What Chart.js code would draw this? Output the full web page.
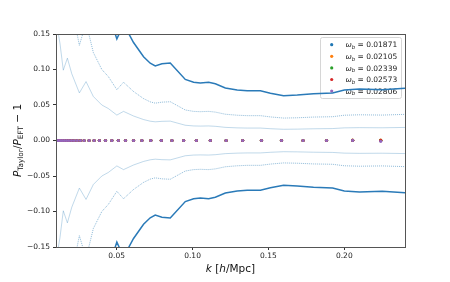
<!DOCTYPE html>
<html>
<head>
<meta charset="utf-8">
<script src="https://cdn.jsdelivr.net/npm/chart.js@4/dist/chart.umd.min.js"></script>
<style>
  html, body { margin: 0; padding: 0; background: #fff; }
  canvas { display: block; }
</style>
</head>
<body>
<canvas id="c" width="450" height="282"></canvas>
<script>
// wavenumbers of the ratio points (one per omega_b run)
const kDots = [0.0101, 0.0110, 0.0120, 0.0131, 0.0143, 0.0156, 0.0170, 0.0185, 0.0202, 0.0220,
  0.0240, 0.0261, 0.0285, 0.0318, 0.0351, 0.0386, 0.0426, 0.0468, 0.0511, 0.0558, 0.0611,
  0.0666, 0.0725, 0.0794, 0.0864, 0.0941, 0.1025, 0.1117, 0.1221, 0.1330, 0.1454, 0.1586,
  0.1728, 0.1883, 0.2055, 0.2240];

const omegaLabels = ['0.01871', '0.02105', '0.02339', '0.02573', '0.02806'];
const omegaColors = ['#1f77b4', '#ff7f0e', '#2ca02c', '#d62728', '#9467bd'];

// P_Taylor / P_EFT - 1 for each omega_b
const ratio01871 = [0,0,0,0,0,0,0,0,0,0,0,0,0,0,0,0,0,0,0,0,0,0,0,0,0,0,0,0,0,0,0,0,0,0,0.0002,0.0000];
const ratio02105 = [0,0,0,0,0,0,0,0,0,0,0,0,0,0,0,0,0,0,0,0,0,0,0,0,0,0,0,0,0,0,0,0,0,0,0.0004,0.0005];
const ratio02339 = [0,0,0,0,0,0,0,0,0,0,0,0,0,0,0,0,0,0,0,0,0,0,0,0,0,0,0,0,0,0,0,0,0,0,0.0002,0.0002];
const ratio02573 = [0,0,0,0,0,0,0,0,0,0,0,0,0,0,0,0,0,0,0,0,0,0,0,0,0,0,0,0,0,0,0,0,0,0,0.0002,0.0003];
const ratio02806 = [0,0,0,0,0,0,0,0,0,0,0,0,0,0,0,0,0,0,0,0,0,0,0,0,0,0,0,0,0,0,0,0,0,0,0.0001,-0.0012];
const ratioSeries = [ratio01871, ratio02105, ratio02339, ratio02573, ratio02806];

// error bands (plotted as +/-)
const kBand = [0.0100, 0.0126, 0.0148, 0.0175, 0.0204, 0.0254, 0.0298, 0.0346, 0.0402, 0.0445,
  0.0501, 0.0545, 0.0611, 0.0677, 0.0721, 0.0754, 0.0798, 0.0853, 0.0952, 0.1007, 0.1051,
  0.1106, 0.1150, 0.1216, 0.1294, 0.1360, 0.1447, 0.1513, 0.1600, 0.1690, 0.1797, 0.1923,
  0.2000, 0.2100, 0.2250, 0.2400];
const bandDark = [0.680, 0.548, 0.396, 0.464, 0.376, 0.268, 0.332, 0.248, 0.200, 0.180,
  0.143, 0.164, 0.138, 0.118, 0.1088, 0.105, 0.108, 0.109, 0.086, 0.082, 0.081,
  0.082, 0.080, 0.074, 0.071, 0.070, 0.070, 0.0665, 0.063, 0.064, 0.066, 0.067,
  0.0712, 0.0725, 0.0715, 0.0735];
const bandMid = [0.340, 0.274, 0.198, 0.232, 0.188, 0.134, 0.166, 0.124, 0.100, 0.090,
  0.0716, 0.082, 0.069, 0.059, 0.0544, 0.0526, 0.054, 0.0546, 0.043, 0.041, 0.0406,
  0.041, 0.040, 0.037, 0.0356, 0.035, 0.035, 0.0332, 0.0316, 0.032, 0.033, 0.0335,
  0.0356, 0.0362, 0.0358, 0.0368];
const bandLight = [0.170, 0.137, 0.099, 0.116, 0.094, 0.067, 0.083, 0.062, 0.050, 0.045,
  0.0358, 0.041, 0.0345, 0.0295, 0.0272, 0.0263, 0.027, 0.0273, 0.0215, 0.0205, 0.0203,
  0.0205, 0.020, 0.0185, 0.0178, 0.0175, 0.0175, 0.0166, 0.0158, 0.016, 0.0165, 0.0168,
  0.0178, 0.0181, 0.0179, 0.0184];

const xTicks = [0.05, 0.10, 0.15, 0.20];
const yTicks = [-0.15, -0.10, -0.05, 0.00, 0.05, 0.10, 0.15];

const FAM = '"DejaVu Sans", sans-serif';
Chart.defaults.font.family = FAM;
Chart.defaults.font.size = 7.5;
Chart.defaults.color = '#222';

function pts(xs, ys, sign) {
  return xs.map((x, i) => ({ x: x, y: sign * ys[i] }));
}

function bandSet(ys, sign, color, width, dash) {
  return {
    data: pts(kBand, ys, sign),
    showLine: true,
    borderColor: color,
    borderWidth: width,
    borderDash: dash,
    pointRadius: 0,
    tension: 0,
    fill: false,
    order: 20
  };
}

const datasets = [
  bandSet(bandLight, 1, 'rgba(31,119,180,0.28)', 1, []),
  bandSet(bandLight, -1, 'rgba(31,119,180,0.28)', 1, []),
  bandSet(bandMid, 1, 'rgba(31,119,180,0.5)', 1, [1, 1]),
  bandSet(bandMid, -1, 'rgba(31,119,180,0.5)', 1, [1, 1]),
  bandSet(bandDark, 1, '#2a7ab8', 1.5, []),
  bandSet(bandDark, -1, '#2a7ab8', 1.5, [])
];
// later omega_b runs sit on top (lower order is drawn last)
ratioSeries.forEach((vals, i) => {
  datasets.push({
    data: pts(kDots, vals, 1),
    showLine: false,
    pointRadius: 1.6,
    pointBorderWidth: 0,
    pointBackgroundColor: omegaColors[i],
    borderColor: omegaColors[i],
    order: 10 - i
  });
});

// draws a little mathtext-like string: parts = [[text, style]], style has 'i' italic, 's' subscript
function drawMath(ctx, parts, x, y, size, align) {
  const items = parts.map(([t, s]) => {
    const sub = s.indexOf('s') >= 0;
    const it = s.indexOf('i') >= 0;
    return { t: t, sub: sub, font: (it ? 'italic ' : '') + (sub ? size * 0.7 : size) + 'px ' + FAM };
  });
  let w = 0;
  items.forEach(p => { ctx.font = p.font; p.w = ctx.measureText(p.t).width; w += p.w; });
  let cx = align === 'center' ? x - w / 2 : x;
  items.forEach(p => {
    ctx.font = p.font;
    ctx.fillText(p.t, cx, p.sub ? y + size * 0.22 : y);
    cx += p.w;
  });
}

const decorations = {
  id: 'decorations',
  beforeDatasetsDraw(chart) {
    // legend box
    const ctx = chart.ctx;
    ctx.save();
    const bx = 320.5, by = 37.5, bw = 81, bh = 61, r = 2;
    ctx.beginPath();
    ctx.moveTo(bx + r, by);
    ctx.arcTo(bx + bw, by, bx + bw, by + bh, r);
    ctx.arcTo(bx + bw, by + bh, bx, by + bh, r);
    ctx.arcTo(bx, by + bh, bx, by, r);
    ctx.arcTo(bx, by, bx + bw, by, r);
    ctx.closePath();
    ctx.fillStyle = 'rgba(255,255,255,0.8)';
    ctx.fill();
    ctx.strokeStyle = '#d6d6d6';
    ctx.lineWidth = 1;
    ctx.stroke();
    ctx.textBaseline = 'alphabetic';
    omegaLabels.forEach((lab, i) => {
      const yc = 44.7 + i * 11.6;
      ctx.beginPath();
      ctx.arc(331.7, yc, 1.6, 0, Math.PI * 2);
      ctx.fillStyle = omegaColors[i];
      ctx.fill();
      ctx.fillStyle = '#222';
      drawMath(ctx, [['\u03c9', 'i'], ['b', 'si'], [' = ' + lab, '']], 345.5, yc + 2.7, 7.5, 'left');
    });
    ctx.restore();
  },
  afterDraw(chart) {
    const ctx = chart.ctx;
    const a = chart.chartArea;
    ctx.save();
    ctx.strokeStyle = '#555';
    ctx.lineWidth = 1;
    ctx.strokeRect(Math.round(a.left) + 0.5, Math.round(a.top) + 0.5,
      Math.round(a.right - a.left), Math.round(a.bottom - a.top));
    ctx.fillStyle = '#111';
    ctx.textBaseline = 'alphabetic';
    drawMath(ctx, [['k', 'i'], [' [', ''], ['h', 'i'], ['/Mpc]', '']], (a.left + a.right) / 2, 272, 10.5, 'center');
    ctx.translate(21, (a.top + a.bottom) / 2);
    ctx.rotate(-Math.PI / 2);
    drawMath(ctx, [['P', 'i'], ['Taylor', 's'], ['/', ''], ['P', 'i'], ['EFT', 's'], [' \u2212 1', '']], 0, 0, 10.5, 'center');
    ctx.restore();
  }
};

new Chart(document.getElementById('c'), {
  type: 'scatter',
  data: { datasets: datasets },
  options: {
    responsive: false,
    animation: false,
    events: [],
    layout: { padding: { left: 0, right: 45, top: 34, bottom: 0 } },
    plugins: { legend: { display: false }, tooltip: { enabled: false } },
    scales: {
      x: {
        type: 'linear',
        min: 0.01,
        max: 0.24,
        afterFit(s) { s.height = 35; },
        afterBuildTicks(s) { s.ticks = xTicks.map(v => ({ value: v })); },
        border: { display: false },
        grid: { drawOnChartArea: false, drawTicks: true, tickLength: 3, tickColor: '#333' },
        ticks: { padding: 2, maxRotation: 0, callback: v => v.toFixed(2) }
      },
      y: {
        min: -0.15,
        max: 0.15,
        afterFit(s) { s.width = 56; },
        afterBuildTicks(s) { s.ticks = yTicks.map(v => ({ value: v })); },
        border: { display: false },
        grid: { drawOnChartArea: false, drawTicks: true, tickLength: 3, tickColor: '#333' },
        ticks: { padding: 3, callback: v => v.toFixed(2).replace('-', '\u2212') }
      }
    }
  },
  plugins: [decorations]
});
</script>
</body>
</html>
